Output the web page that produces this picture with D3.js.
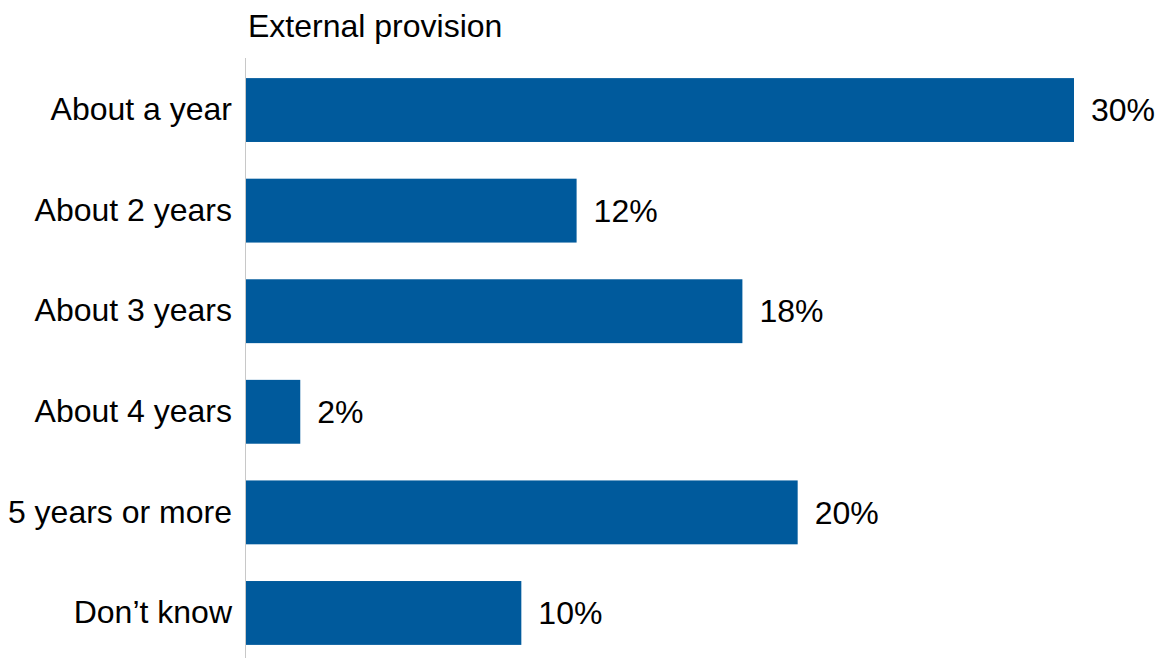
<!DOCTYPE html>
<html>
<head>
<meta charset="utf-8">
<script src="https://cdn.jsdelivr.net/npm/d3@7"></script>
<style>
  html, body { margin: 0; padding: 0; background: #fff; }
  svg { display: block; font-family: "Liberation Sans", Arial, sans-serif; }
</style>
</head>
<body>
<svg id="chart" width="1160" height="658"></svg>
<script>
// Duration categories and share of responses (%)
const categories = ["About a year", "About 2 years", "About 3 years", "About 4 years", "5 years or more", "Don\u2019t know"];
const values = [30, 12, 18, 2, 20, 10];
const title = "External provision";

const svg = d3.select("#chart");
const margin = { left: 245, top: 60, right: 86, bottom: -5 };
const width = 1160, height = 658;
const fontSize = 32;

const x = d3.scaleLinear()
  .domain([0, 30])
  .range([margin.left, width - margin.right]);

const y = d3.scaleBand()
  .domain(categories)
  .range([margin.top, height - margin.bottom])
  .paddingInner(0.365)
  .paddingOuter(0.18);

// Category axis: a thin grey baseline with labels, no ticks
const yAxis = d3.axisLeft(y).tickSize(0).tickPadding(13);
const gy = svg.append("g")
  .attr("transform", `translate(${margin.left},0)`)
  .call(yAxis);
gy.select(".domain").remove();
gy.selectAll("text")
  .attr("font-size", fontSize)
  .attr("font-family", "Liberation Sans, Arial, sans-serif")
  .attr("fill", "#000");

svg.append("line")
  .attr("x1", margin.left + 0.5).attr("x2", margin.left + 0.5)
  .attr("y1", 58).attr("y2", height)
  .attr("stroke", "#c8c8c8").attr("stroke-width", 1);

// Bars
svg.append("g").selectAll("rect")
  .data(values)
  .join("rect")
  .attr("x", x(0) + 1)
  .attr("y", (d, i) => y(categories[i]))
  .attr("width", d => x(d) - x(0) - 1)
  .attr("height", y.bandwidth())
  .attr("fill", "#005a9c");

// Value labels
svg.append("g").selectAll("text")
  .data(values)
  .join("text")
  .attr("x", d => x(d) + 17)
  .attr("y", (d, i) => y(categories[i]) + y.bandwidth() / 2)
  .attr("dy", "0.35em")
  .attr("font-size", fontSize)
  .attr("fill", "#000")
  .text(d => d + "%");

// Chart title
svg.append("text")
  .attr("x", 248)
  .attr("y", 37)
  .attr("font-size", fontSize)
  .attr("fill", "#000")
  .text(title);
</script>
</body>
</html>
